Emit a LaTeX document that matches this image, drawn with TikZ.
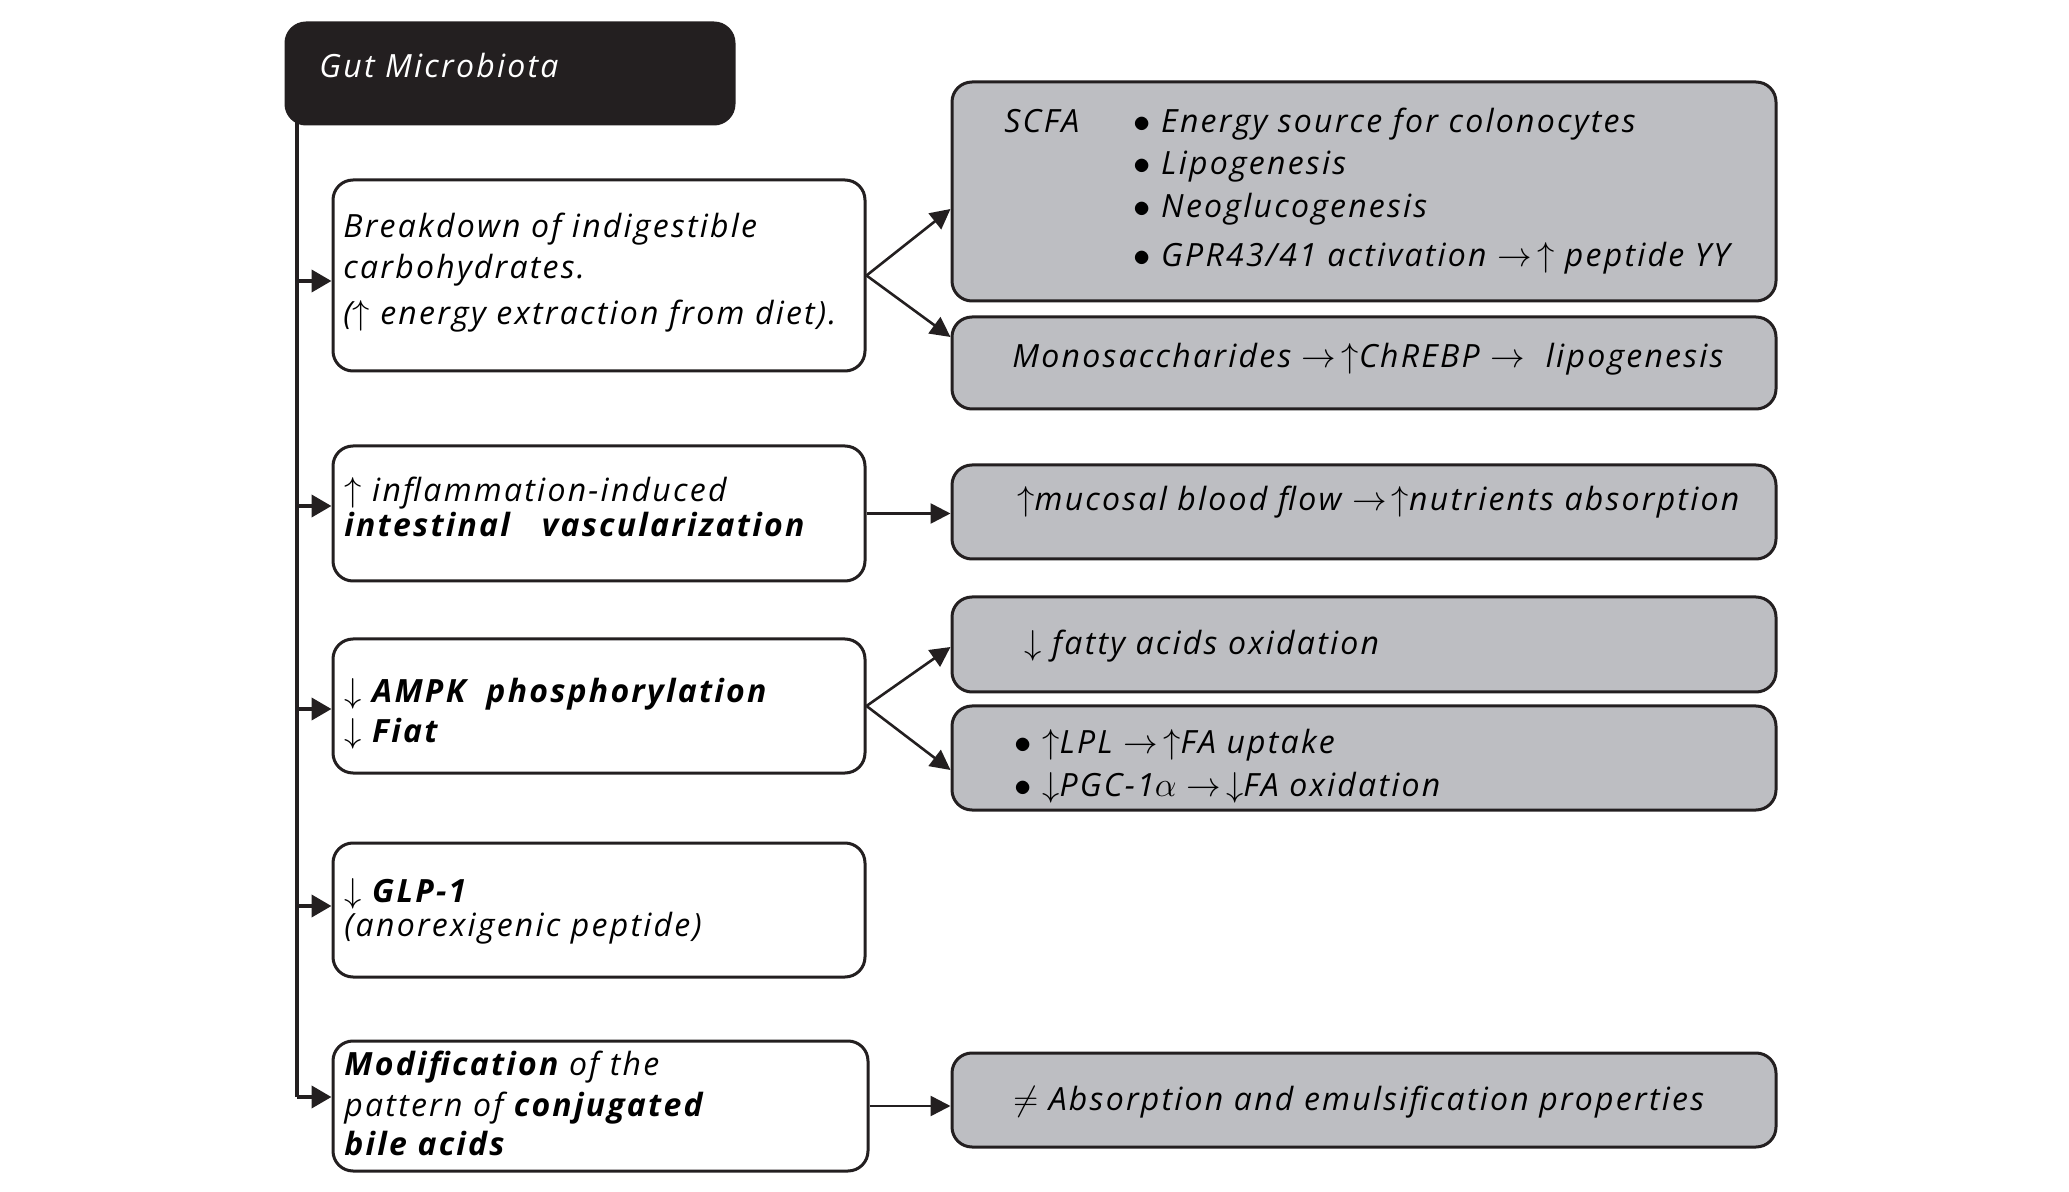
\documentclass[tikz,border=0pt]{standalone}
\usepackage{fontspec}
\setmainfont{Open Sans}[LetterSpace=7]
\usetikzlibrary{arrows.meta,fit}
\definecolor{ink}{HTML}{231F20}
\definecolor{boxgray}{HTML}{BDBEC2}
\begin{document}
\begin{tikzpicture}[x=0.5pt,y=-0.5pt,
  lbox/.style={draw=ink,line width=1.5pt,rounded corners=10pt,fill=white,inner sep=0pt,fit={#1}},
  rbox/.style={draw=ink,line width=1.5pt,rounded corners=10pt,fill=boxgray,inner sep=0pt,fit={#1}},
  gbox/.style={draw=ink,line width=1.5pt,rounded corners=10pt,fill=ink,inner sep=0pt,fit={#1}},
  txt/.style={anchor=base west,inner sep=0pt,font=\fontsize{16}{19}\selectfont\itshape},
  stub/.style={draw=ink,line width=2pt,-{Triangle[length=10pt,width=11pt]}},
  conn/.style={draw=ink,line width=1.3pt,-{Triangle[length=10pt,width=10pt]}}]
\useasboundingbox (0,0) rectangle (2069,1192);

% header
\node[gbox={(286,23) (734,124)}] (g) {};
\node[txt,text=white] (gt) at (319,78) {Gut Microbiota};

% left boxes
\node[lbox={(333,180) (865,371)}] (b1) {};
\node[lbox={(333,446) (865,581)}] (b2) {};
\node[lbox={(333,639) (865,773)}] (b3) {};
\node[lbox={(333,843) (865,977)}] (b4) {};
\node[lbox={(333,1041) (868,1171)}] (b5) {};

% right boxes
\node[rbox={(952,82) (1776,301)}] (r1) {};
\node[rbox={(952,317) (1776,409)}] (r2) {};
\node[rbox={(952,465) (1776,559)}] (r3) {};
\node[rbox={(952,597) (1776,692)}] (r4) {};
\node[rbox={(952,706) (1776,810)}] (r5) {};
\node[rbox={(952,1053) (1776,1147)}] (r6) {};

% left texts
\node[txt] (b1a) at (343,238) {Breakdown of indigestible};
\node[txt] (b1b) at (343,279) {carbohydrates.};
\node[txt] (b1c) at (343,325) {($\uparrow$ energy extraction from diet).};

\node[txt] (b2a) at (344,502) {$\uparrow$ inflammation-induced};
\node[txt] (b2b) at (344,537) {\textbf{intestinal\quad vascularization}};

\node[txt] (b3a) at (344,703) {$\downarrow$ \textbf{AMPK\ \ phosphorylation}};
\node[txt] (b3b) at (344,742) {$\downarrow$ \textbf{Fiat}};

\node[txt] (b4a) at (344,902) {$\downarrow$ \textbf{GLP-1}};
\node[txt] (b4b) at (344,936) {(anorexigenic peptide)};

\node[txt] (b5a) at (344,1075) {\textbf{Modification} of\ the};
\node[txt] (b5b) at (344,1116) {pattern of \textbf{conjugated}};
\node[txt] (b5c) at (344,1155) {\textbf{bile acids}};

% right texts
\node[txt] (r1s) at (1004,133) {SCFA};
\node[txt] (r1a) at (1133,133) {$\bullet$ Energy source for colonocytes};
\node[txt] (r1b) at (1133,175) {$\bullet$ Lipogenesis};
\node[txt] (r1c) at (1133,218) {$\bullet$ Neoglucogenesis};
\node[txt] (r1d) at (1133,267) {$\bullet$ GPR43/41 activation $\rightarrow$\,$\uparrow$ peptide YY};

\node[txt] (r2a) at (1012,368) {Monosaccharides $\rightarrow$\,$\uparrow$ChREBP $\rightarrow$\ \ lipogenesis};
\node[txt] (r3a) at (1017,511) {$\uparrow$mucosal blood flow $\rightarrow$\,$\uparrow$nutrients absorption};
\node[txt] (r4a) at (1024,654) {$\downarrow$ fatty acids oxidation};
\node[txt] (r5a) at (1014,754) {$\bullet$ $\uparrow$LPL $\rightarrow$\,$\uparrow$FA uptake};
\node[txt] (r5b) at (1014,796) {$\bullet$ $\downarrow$PGC-1$\alpha\rightarrow$\,$\downarrow$FA oxidation};
\node[txt] (r6a) at (1013,1110) {$\neq$ Absorption and emulsification properties};

% trunk
\coordinate (top) at (297,118);
\coordinate (bot) at (297,1097);
\draw[draw=ink,line width=2pt] (top) -- (bot);
\coordinate (t1) at (297,281);
\coordinate (t2) at (297,506);
\coordinate (t3) at (297,709);
\coordinate (t4) at (297,906);
\coordinate (t5) at (297,1097);
\draw[stub] (t1) -- (t1 -| b1.west);
\draw[stub] (t2) -- (t2 -| b2.west);
\draw[stub] (t3) -- (t3 -| b3.west);
\draw[stub] (t4) -- (t4 -| b4.west);
\draw[stub] (t5) -- (t5 -| b5.west);

% right connectors
\draw[conn] (b1.east) -- ([yshift=-8.75pt]r1.west);
\draw[conn] (b1.east) -- ([yshift=13pt]r2.west);
\draw[conn] (b2.east) -- (b2.east -| r3.west);
\draw[conn] (b3.east) -- ([yshift=-1.25pt]r4.west);
\draw[conn] (b3.east) -- ([yshift=-6pt]r5.west);
\draw[conn] (b5.east) -- (b5.east -| r6.west);
\end{tikzpicture}
\end{document}
